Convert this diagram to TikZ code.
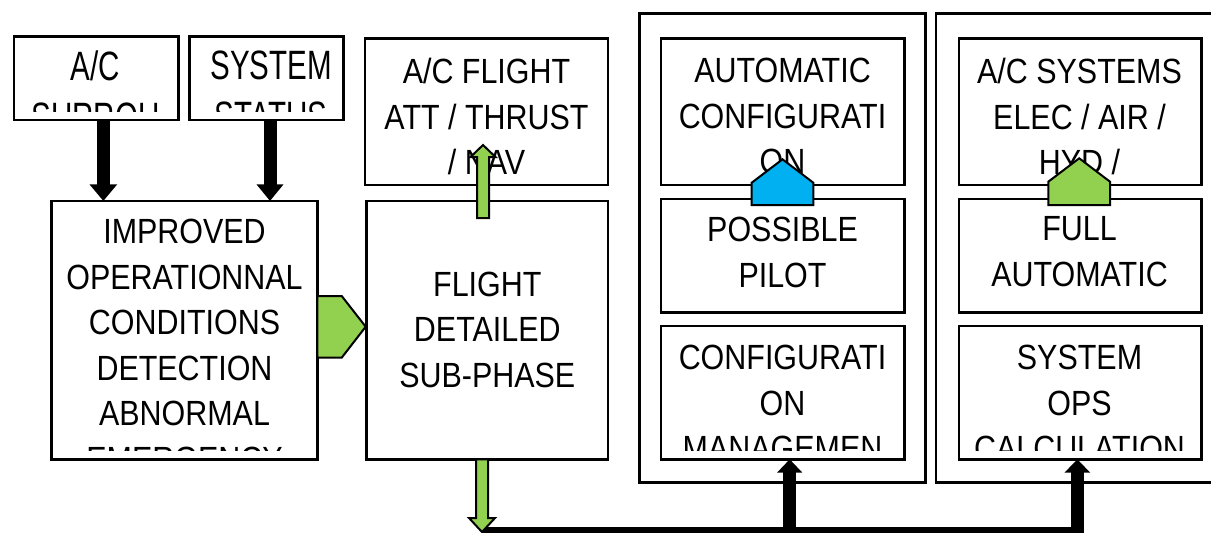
\documentclass[tikz,border=0pt]{standalone}
\usepackage{fontspec}
\setmainfont{Liberation Sans}
\newfontfamily\dfont[FakeStretch=0.87]{Liberation Sans}
\newfontfamily\tfont[FakeStretch=0.72]{Liberation Sans}
\usetikzlibrary{arrows.meta,calc}
\definecolor{pgreen}{HTML}{92D050}
\definecolor{pblue}{HTML}{00B0F0}
\tikzset{
  box/.style={draw, line width=2.6pt, inner sep=0pt, outer sep=0pt},
  txt/.style={font=\dfont\fontsize{35}{45.5}\selectfont, align=center, inner sep=0pt, anchor=north},
  ttxt/.style={font=\tfont\fontsize{41}{51}\selectfont, align=center, inner sep=0pt, anchor=north},
  blk/.style={line width=13pt, draw=black},
  outl/.style={draw=black, line width=2pt, line join=miter},
}
\newcommand\mybox[5]{\node[box, minimum width={(#4)-(#2)}, minimum height={(#5)-(#3)}] (#1) at ({((#2)+(#4))/2},{((#3)+(#5))/2}) {};}
\newcommand\boxtext[5]{\begin{scope}\clip (#1.north west) rectangle ([yshift=9pt]#1.south east);
  \node[#4] (#1-t) at (#2,#3) {#5};\end{scope}}
\begin{document}
\begin{tikzpicture}[x=1pt,y=-1pt]
\useasboundingbox (0,0) rectangle (1211,533);
\clip (0,0) rectangle (1211,533);
% containers
\mybox{contA}{639.3}{13.3}{925.3}{482.7}
\mybox{contB}{936}{13.3}{1230}{482.7}
% boxes
\mybox{acs}{14}{36.7}{178.7}{120}
\mybox{sys}{189.7}{36.7}{343.3}{120}
\mybox{imp}{51.7}{201}{317.3}{459.3}
\mybox{acf}{365}{38.3}{608}{185}
\mybox{fds}{366.7}{201}{608}{459.3}
\mybox{auto}{661}{38.3}{904.3}{185}
\mybox{pos}{661}{199}{904.3}{312.7}
\mybox{cfg}{661}{326}{904.3}{459.3}
\mybox{acsys}{959}{38.3}{1201.7}{185}
\mybox{full}{959}{199}{1201.7}{312.7}
\mybox{ops}{959}{326}{1201.7}{459.3}
% texts
\boxtext{acs}{95.5}{50.7}{ttxt}{A/C\\SURROU}
\boxtext{sys}{271}{50.7}{ttxt}{SYSTEM\\STATUS}
\boxtext{imp}{184.5}{219.3}{txt}{IMPROVED\\OPERATIONNAL\\CONDITIONS\\DETECTION\\ABNORMAL\\EMERGENCY}
\boxtext{acf}{486.5}{58.3}{txt}{A/C FLIGHT\\ATT / THRUST\\/ NAV}
\boxtext{fds}{487.3}{271.7}{txt}{FLIGHT\\DETAILED\\SUB-PHASE}
\boxtext{auto}{782.5}{58.3}{txt}{AUTOMATIC\\CONFIGURATI\\ON}
\boxtext{pos}{782.5}{217.3}{txt}{POSSIBLE\\PILOT}
\boxtext{cfg}{782.5}{345}{txt}{CONFIGURATI\\ON\\MANAGEMEN}
\boxtext{acsys}{1079.5}{58.3}{txt}{A/C SYSTEMS\\ELEC / AIR /\\HYD /}
\boxtext{full}{1079.5}{216.7}{txt}{FULL\\AUTOMATIC}
\boxtext{ops}{1079.5}{345}{txt}{SYSTEM\\OPS\\CALCULATION}
% black down arrows
\draw[blk,-{Triangle[width=26.7pt,length=16.7pt]}] ([xshift=7pt]acs.south) -- ([xshift=7pt]acs.south |- imp.north);
\draw[blk,-{Triangle[width=26pt,length=16.7pt]}] ([xshift=3.5pt]sys.south) -- ([xshift=3.5pt]sys.south |- imp.north);
% green right pentagon
\draw[outl, fill=pgreen] (317.3,296) -- (341.7,296) -- (365.7,326.7) -- (341.7,357.7) -- (317.3,357.7) -- cycle;
% green up arrow
\draw[outl, fill=pgreen] (477,218) -- (477,157) -- (470.5,157) -- (483,145) -- (495.5,157) -- (489,157) -- (489,218) -- cycle;
% pentagons in containers
\draw[outl, fill=pblue] (751.7,205) -- (751.7,182.7) -- (782.5,159.3) -- (813.3,182.7) -- (813.3,205) -- cycle;
\draw[outl, fill=pgreen] (1048.3,205) -- (1048.3,181.7) -- (1079.2,158.3) -- (1110,181.7) -- (1110,205) -- cycle;
% bottom connector
\coordinate (busL) at (482,533.5);
\draw[blk,line join=miter,-{Triangle[width=25pt,length=13.4pt]}] (busL) -| ([xshift=-3pt]ops.south);
\draw[blk,-{Triangle[width=24.6pt,length=13.4pt]}] (busL -| 789.7,0) -- (789.7,459.3);
% green down arrow
\draw[outl, fill=pgreen] (476,459.3) -- (476,518) -- (469,518) -- (482,532) -- (495,518) -- (488,518) -- (488,459.3) -- cycle;
\end{tikzpicture}
\end{document}
